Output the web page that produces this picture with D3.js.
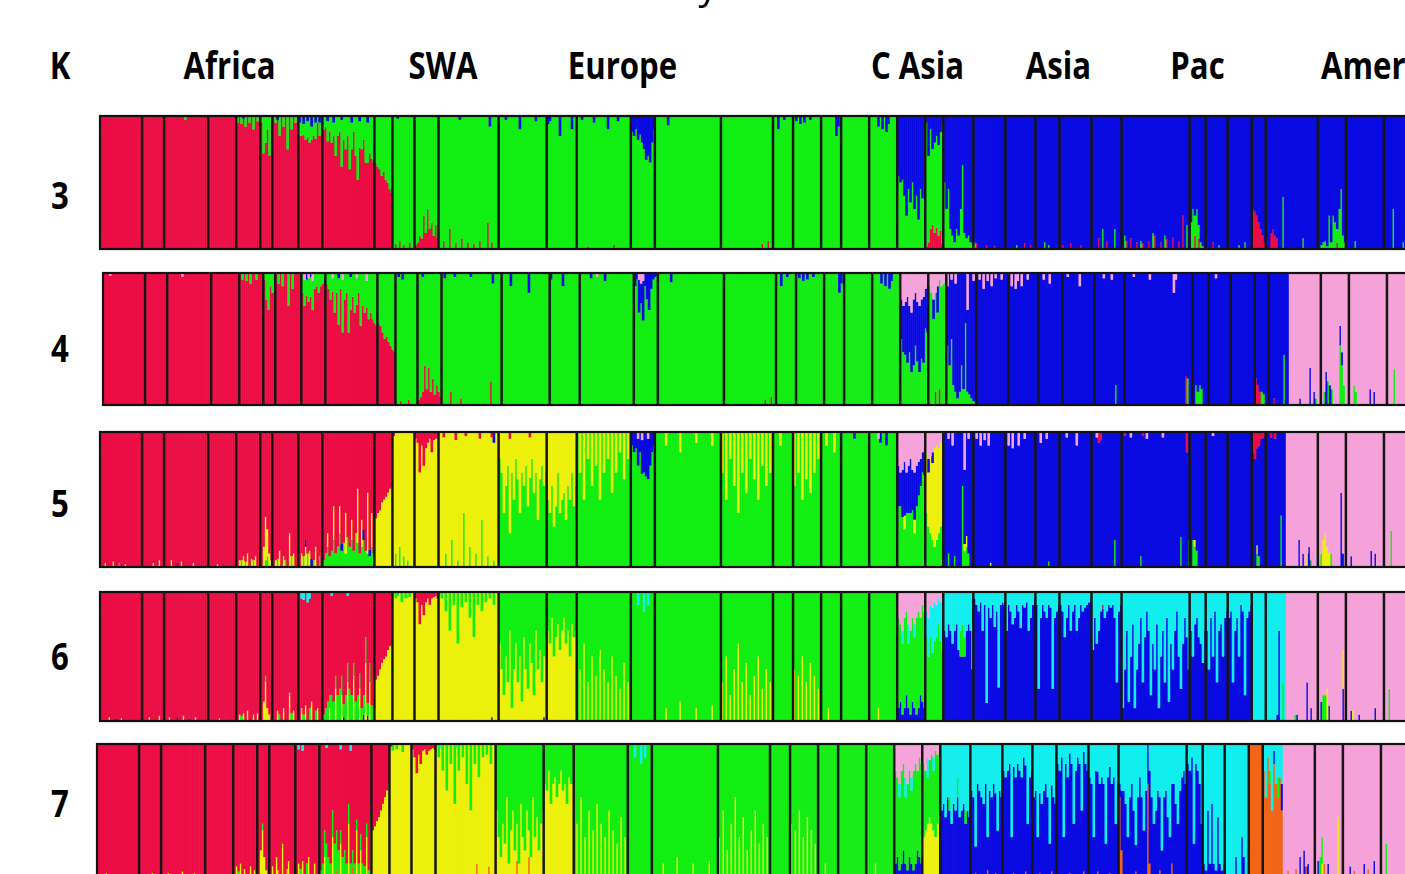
<!DOCTYPE html>
<html>
<head>
<meta charset="utf-8">
<script src="https://d3js.org/d3.v7.min.js"></script>
<style>
  body { margin: 0; background: #fff; overflow: hidden; }
  svg { display: block; background: #fff; }
  .lbl { font-family: "Open Sans", "Noto Sans", sans-serif; font-weight: 700; font-size: 38px; fill: #000; }
  .title { font-family: "Open Sans", "Noto Sans", sans-serif; font-size: 38px; fill: #000; }
</style>
</head>
<body>
<svg id="chart" width="1405" height="874"></svg>
<script>

// ---- data ----
const kValues = [3, 4, 5, 6, 7];
const regionLabels = ["Africa", "SWA", "Europe", "C Asia", "Asia", "Pac", "Amer"];

// individuals per population, left to right
const popSizes = [21, 11, 22, 14, 12, 6, 13, 12, 26, 9,
                  11, 12, 30,
                  24, 15, 27, 12, 33, 26, 10, 14, 10, 14, 14,
                  14, 9, 15,
                  16, 15, 12, 16, 15, 34, 8, 11, 12,
                  7, 10,
                  16, 14, 19, 18];

// cluster stacking order, bottom to top, per K
const stackOrder = { 3: "rgb", 4: "rgbp", 5: "gybrp", 6: "bygrcp", 7: "obygrcp" };

// per population: [main cluster, {other cluster: values}]
// values are either one q per individual, or [individual, q] pairs
const k3Pops = [
  ["r", {}],
  ["r", {}],
  ["r", {g: [[10, .03]]}],
  ["r", {}],
  ["r", {g: [[0,.05],[2,.06],[4,.08],[6,.05],[8,.1],[10,.04]], b: [[3,.02]]}],
  ["r", {g: [.05,.28,.2,.1,.3,.05]}],
  ["r", {g: [[1,.05],[3,.15],[5,.08],[7,.25],[9,.1],[11,.05]], b: [[2,.03]]}],
  ["r", {g: [.1,.15,.08,.18,.12,.2,.1,.15,.12,.05,.1,.06], b: [[0,.05],[2,.06],[4,.04],[6,.08],[8,.05],[10,.05]]}],
  ["r", {g: [.1,.08,.15,.12,.2,.1,.3,.15,.12,.35,.18,.25,.15,.4,.2,.12,.3,.48,.2,.25,.18,.35,.3,.28,.32,.35], b: [[2,.04],[5,.05],[9,.03],[14,.05],[18,.04],[22,.05]]}],
  ["r", {g: [.35,.38,.4,.45,.42,.48,.5,.55,.58]}],
  ["g", {r: [[1,.04],[3,.06],[5,.03],[8,.05]], b: [[2,.02]]}],
  ["g", {r: [.03,.05,.1,.08,.25,.12,.3,.15,.2,.1,.18,.08]}],
  ["g", {r: [[2,.06],[5,.15],[8,.05],[11,.08],[14,.05],[17,.04],[20,.06],[24,.2],[26,.05]], b: [[10,.03],[25,.08]]}],
  ["g", {b: [[3,.03],[10,.1],[18,.04]]}],
  ["g", {b: [[0,.06],[1,.04],[6,.15],[12,.1]]}],
  ["g", {b: [[2,.03],[8,.05],[15,.1],[20,.04]], r: [[5,.02],[18,.03]]}],
  ["g", {b: [.12,.15,.1,.18,.14,.2,.25,.33,.3,.35,.2,.1]}],
  ["g", {b: [[6,.07]]}],
  ["g", {r: [[20,.04],[23,.06]]}],
  ["g", {b: [[2,.1],[5,.03]]}],
  ["g", {b: [[1,.04],[3,.06],[5,.05],[8,.03]]}],
  ["g", {b: [[7,.15],[8,.08]]}],
  ["g", {}],
  ["g", {b: [[4,.08],[6,.1],[8,.12],[9,.06]]}],
  ["g", {b: [.45,.5,.48,.6,.75,.55,.65,.5,.7,.6,.78,.55,.62,.5]}],
  ["g", {b: [.05,.3,.1,.25,.2,.15,.22,.12,.05], r: [.02,.05,.15,.18,.12,.16,.1,.14,.04]}],
  ["b", {g: [.5,.3,.45,.15,.1,.05,.15,.1,.3,.63,.12,.08,.1,.05,.03], r: [[14,.02]]}],
  ["b", {g: [[0,.05]], r: [[1,.04],[6,.03],[10,.02]]}],
  ["b", {g: [[5,.03]], r: [[9,.04],[12,.03]]}],
  ["b", {g: [[4,.05],[6,.03]]}],
  ["b", {r: [[1,.03],[5,.04],[10,.03]]}],
  ["b", {r: [[3,.08],[7,.06]], g: [[5,.15],[11,.15]]}],
  ["b", {r: [[2,.06],[4,.08],[7,.05],[10,.04],[13,.06],[16,.1],[19,.05],[22,.07],[25,.09],[28,.06],[30,.25]], g: [[1,.1],[9,.06],[15,.12],[21,.1],[32,.18]]}],
  ["b", {g: [.2,.3,.15,.3,.1,.05,.02], r: [[2,.1],[4,.08]]}],
  ["b", {r: [[3,.05]], g: [[6,.03]]}],
  ["b", {g: [[5,.03],[8,.05]]}],
  ["b", {r: [.3,.28,.25,.2,.15,.1,.05]}],
  ["b", {r: [[2,.12],[3,.15],[4,.1],[5,.08]], g: [[8,.39]]}],
  ["b", {g: [[8,.08]]}],
  ["b", {g: [0,.03,.05,.06,.02,.25,.05,.25,.2,.1,.3,.45,.1,.05], r: [[9,.05]]}],
  ["b", {g: [[4,.06]]}],
  ["b", {g: [[4,.3],[9,.05]]}]
];

const k4Pops = [
  ["r", {p: [[3,.02]]}],
  ["r", {}],
  ["r", {p: [[7,.03]]}],
  ["r", {}],
  ["r", {g: [[1,.05],[3,.06],[5,.08],[8,.05]]}],
  ["r", {g: [.05,.2,.28,.1,.15,.03]}],
  ["r", {g: [[1,.08],[3,.1],[6,.25],[8,.12]]}],
  ["r", {g: [.15,.2,.12,.18,.15,.22,.12,.1,.15,.1,.08,.05], p: [[1,.05],[3,.04],[5,.06]], b: [[2,.05],[4,.03]]}],
  ["r", {g: [.08,.12,.2,.1,.3,.15,.35,.12,.4,.2,.15,.45,.25,.18,.3,.2,.15,.4,.25,.3,.2,.35,.3,.35,.38,.4], p: [[3,.04],[8,.05],[15,.04],[20,.06]], b: [[6,.04],[12,.03]]}],
  ["r", {g: [.38,.4,.45,.5,.48,.52,.55,.58,.6]}],
  ["g", {r: [[2,.03],[6,.04]], b: [[1,.03],[3,.05]]}],
  ["g", {r: [.04,.06,.1,.3,.12,.28,.1,.2,.08,.15,.1,.06], b: [[2,.03]]}],
  ["g", {r: [[4,.1],[9,.05],[24,.18]], b: [[1,.04],[6,.03],[14,.03],[25,.08]]}],
  ["g", {b: [[4,.1],[13,.15]]}],
  ["g", {b: [[0,.05],[6,.1]]}],
  ["g", {b: [[5,.04],[12,.06]], p: [[8,.03]]}],
  ["g", {b: [.1,.05,.25,.15,.3,.1,.2,.28,.12,.05,.03,.02], p: [[2,.05],[3,.08],[4,.06]]}],
  ["g", {b: [[6,.07]]}],
  ["g", {r: [[20,.04],[23,.06]]}],
  ["g", {b: [[2,.1],[5,.03]]}],
  ["g", {b: [[1,.04],[3,.06],[5,.05],[8,.03]]}],
  ["g", {b: [[7,.15],[8,.08]]}],
  ["g", {}],
  ["g", {b: [[4,.08],[6,.1],[8,.12],[9,.06]]}],
  ["g", {p: [.2,.25,.22,.18,.25,.3,.2,.15,.22,.25,.2,.18,.12,.1], b: [.3,.35,.4,.5,.35,.45,.5,.4,.45,.5,.45,.5,.3,.35]}],
  ["g", {p: [.1,.15,.2,.15,.1,.05,.1,.08,.05], b: [[2,.15],[4,.2]], r: [[3,.1],[5,.12]]}],
  ["b", {p: [[0,.1],[2,.05],[4,.08],[10,.28],[13,.06]], g: [.45,.3,.5,.15,.1,.05,.1,.3,.12,.62,.1,.08,.05,.03,.02]}],
  ["b", {p: [[1,.05],[3,.12],[5,.06],[7,.1],[9,.04],[12,.05]]}],
  ["b", {p: [[1,.1],[3,.12],[4,.06],[6,.1],[9,.05]]}],
  ["b", {p: [[2,.05],[5,.08]]}],
  ["b", {p: [[2,.03],[8,.1]]}],
  ["b", {p: [[4,.04],[8,.05]], g: [[10,.15]]}],
  ["b", {p: [[4,.03],[12,.05],[24,.15],[25,.05]], r: [[30,.22]], g: [[31,.2]]}],
  ["b", {g: [[1,.15],[2,.1],[3,.15],[4,.12]]}],
  ["b", {p: [[3,.04]]}],
  ["b", {}],
  ["b", {r: [[0,.2],[1,.15],[2,.1]], g: [[3,.1],[4,.08]]}],
  ["b", {g: [[7,.38]], r: [[2,.05]]}],
  ["p", {b: [[5,.05],[10,.28],[12,.1]], g: [[13,.05]]}],
  ["p", {g: [[1,.1],[3,.18],[5,.12],[9,.45],[10,.3],[11,.15]], b: [[2,.25],[4,.15],[9,.15],[10,.1]]}],
  ["p", {g: [[2,.15],[3,.1]], b: [[10,.12],[12,.1]]}],
  ["p", {g: [[3,.27]]}]
];

const k5Pops = [
  ["r", {y: [[2,.03],[6,.04],[12,.02]], g: [[9,.03]]}],
  ["r", {y: [[5,.03],[8,.05]]}],
  ["r", {y: [[3,.05],[8,.04],[14,.03]], b: [[6,.03]]}],
  ["r", {y: [[4,.02]]}],
  ["r", {y: [[1,.05],[3,.08],[5,.1],[7,.06],[9,.08]], g: [[2,.05],[4,.04],[8,.05]]}],
  ["r", {y: [0,.15,.32,.2,.1,0], g: [[2,.05],[3,.08],[5,.05]]}],
  ["r", {y: [[1,.05],[3,.12],[5,.08],[8,.25],[10,.1]], g: [[2,.06],[6,.05],[9,.08]]}],
  ["r", {y: [[1,.1],[3,.15],[5,.12],[8,.15]], g: [[2,.08],[4,.1],[7,.05],[10,.08]], b: [[3,.05],[6,.06]]}],
  ["r", {g: [.05,.1,.15,.08,.12,.2,.1,.15,.25,.12,.18,.1,.22,.15,.2,.12,.25,.18,.1,.15,.2,.12,.1,.08,.15,.1], y: [[2,.1],[5,.25],[8,.2],[11,.3],[14,.15],[17,.4],[19,.2],[22,.45],[24,.25]], b: [[9,.05],[20,.08],[23,.05]]}],
  ["r", {y: [.36,.4,.42,.48,.5,.52,.55,.58,.6]}],
  ["y", {g: [[1,.1],[3,.15],[5,.08],[7,.05]], r: [[0,.03]]}],
  ["y", {r: [.05,.08,.3,.1,.25,.12,.08,.05,.15,.06,.05,.04]}],
  ["y", {g: [[3,.1],[6,.2],[9,.05],[12,.4],[15,.15],[18,.1],[21,.35],[24,.08],[27,.05]], r: [[2,.04],[8,.06],[13,.03],[20,.05],[26,.04]], b: [[27,.08]]}],
  ["g", {y: [.2,.3,.6,.4,.25,.7,.3,.5,.2,.35,.6,.3,.4,.25,.55,.3,.2,.45,.3,.65,.35,.25,.4,.3], r: [[5,.05],[15,.04]]}],
  ["g", {y: [.5,.6,.4,.7,.55,.3,.6,.5,.45,.65,.4,.5,.3,.55,.4]}],
  ["g", {y: [[1,.3],[3,.5],[5,.2],[7,.4],[9,.25],[11,.5],[13,.3],[15,.2],[17,.45],[19,.3],[21,.15],[23,.35],[25,.2]]}],
  ["g", {b: [.1,.15,.12,.2,.15,.25,.3,.33,.3,.25,.15,.1], p: [[3,.05],[5,.06],[8,.05]]}],
  ["g", {y: [[5,.1],[12,.15],[20,.08],[28,.1]]}],
  ["g", {y: [[0,.3],[2,.5],[4,.2],[6,.4],[8,.6],[10,.3],[12,.45],[14,.2],[16,.35],[18,.5],[20,.25],[22,.4],[24,.3]]}],
  ["g", {y: [[3,.1]]}],
  ["g", {y: [[0,.4],[2,.3],[4,.5],[6,.35],[8,.45],[10,.3],[12,.2]]}],
  ["g", {y: [[2,.1],[6,.15]]}],
  ["g", {b: [[6,.05]]}],
  ["g", {b: [[5,.08],[8,.1]], p: [[4,.05]]}],
  ["g", {p: [.25,.3,.28,.22,.3,.25,.2,.28,.3,.25,.22,.2,.15,.12], b: [.3,.25,.35,.4,.3,.35,.4,.3,.35,.3,.25,.2,.15,.2], y: [[3,.1],[8,.1]]}],
  ["y", {p: [.15,.2,.18,.15,.12,.1,.12,.08,.05], g: [.4,.3,.25,.2,.15,.2,.25,.3,.35], b: [[1,.1],[3,.08]]}],
  ["b", {p: [[2,.05],[4,.1],[10,.28],[12,.05]], g: [[2,.1],[5,.08],[9,.6],[10,.12],[11,.15],[12,.1]], y: [[10,.05],[11,.08]]}],
  ["b", {p: [[1,.05],[3,.1],[5,.06],[7,.1]], y: [[8,.03]]}],
  ["b", {p: [[1,.1],[3,.12],[6,.1],[9,.05]]}],
  ["b", {p: [[2,.08],[5,.05]], g: [[6,.04]]}],
  ["b", {p: [[3,.04],[8,.1]]}],
  ["b", {r: [[3,.08],[4,.06]], p: [[2,.04]], g: [[11,.2]]}],
  ["b", {r: [[1,.03],[10,.03],[32,.15]], p: [[4,.04],[12,.05],[20,.04]], g: [[9,.08],[29,.22],[33,.2]]}],
  ["b", {g: [[1,.2],[2,.15],[3,.12]], y: [[2,.05]]}],
  ["b", {p: [[3,.03]]}],
  ["b", {}],
  ["b", {r: [.15,.2,.12,.1,.05,.04,.03], g: [[2,.1],[3,.08]], y: [[2,.06]]}],
  ["b", {r: [[2,.04],[4,.05]], g: [[7,.38]]}],
  ["p", {b: [[6,.2],[8,.1],[11,.15]], y: [[10,.1]], g: [[12,.05]]}],
  ["p", {y: [[2,.2],[3,.25],[4,.15],[5,.1]], g: [[1,.1],[6,.1]], b: [[11,.55],[12,.1]]}],
  ["p", {b: [[2,.08],[12,.12],[14,.1]]}],
  ["p", {g: [[3,.27]]}]
];

const k6Pops = [
  ["r", {y: [[4,.03],[10,.02]], b: [[7,.02]]}],
  ["r", {y: [[3,.03],[8,.04]]}],
  ["r", {y: [[2,.03],[9,.04],[15,.03]], b: [[6,.03],[12,.02]]}],
  ["r", {y: [[5,.02]]}],
  ["r", {y: [[1,.05],[3,.06],[5,.08],[8,.05],[10,.06]], g: [[2,.04]]}],
  ["r", {y: [0,.15,.3,.1,.05,0], g: [[2,.05]]}],
  ["r", {y: [[2,.08],[5,.1],[8,.22],[10,.08]], g: [[3,.05],[9,.06]]}],
  ["r", {y: [[1,.1],[3,.12],[6,.15],[9,.1]], g: [[2,.05],[5,.1],[8,.08]], c: [[1,.05],[2,.06],[4,.08],[5,.05]]}],
  ["r", {g: [.05,.1,.15,.1,.2,.15,.1,.2,.25,.15,.1,.2,.15,.25,.2,.1,.15,.2,.12,.1,.15,.2,.1,.15,.12,.1], y: [[3,.1],[6,.25],[9,.2],[12,.3],[15,.35],[18,.25],[21,.45],[23,.3],[25,.35]], b: [[10,.03],[20,.05],[22,.04]], c: [[4,.03],[12,.03]]}],
  ["r", {y: [.32,.35,.4,.45,.48,.5,.55,.58,.6]}],
  ["y", {g: [[1,.05],[2,.03],[4,.08],[6,.05],[8,.04]]}],
  ["y", {r: [.05,.08,.25,.1,.18,.08,.05,.1,.05,.04,.03,.05]}],
  ["y", {g: [[1,.05],[3,.15],[5,.3],[7,.1],[9,.4],[11,.12],[13,.08],[15,.2],[17,.35],[19,.1],[21,.15],[23,.08],[25,.05],[27,.1]], b: [[26,.03]]}],
  ["y", {g: [.4,.6,.8,.5,.7,.3,.9,.6,.4,.7,.5,.85,.35,.6,.75,.4,.55,.8,.3,.6,.45,.7,.5,.35], b: [[22,.03]]}],
  ["y", {g: [.3,.4,.2,.5,.35,.25,.45,.3,.2,.4,.3,.5,.25,.35,.3]}],
  ["g", {y: [[1,.4],[3,.6],[5,.3],[7,.5],[9,.35],[11,.55],[13,.4],[15,.3],[17,.5],[19,.35],[21,.25],[23,.45],[25,.3]]}],
  ["g", {c: [[3,.1],[6,.15],[8,.1]]}],
  ["g", {y: [[5,.1],[12,.15],[20,.1],[28,.12]]}],
  ["g", {y: [[0,.3],[2,.5],[4,.2],[6,.4],[8,.6],[10,.3],[12,.45],[14,.2],[16,.35],[18,.5],[20,.25],[22,.4],[24,.3]]}],
  ["g", {}],
  ["g", {y: [[0,.4],[2,.35],[4,.5],[6,.3],[8,.45],[10,.35],[12,.25]]}],
  ["g", {y: [[3,.1]]}],
  ["g", {}],
  ["g", {y: [[4,.1]]}],
  ["g", {p: [.2,.25,.3,.2,.15,.25,.3,.2,.25,.2,.15,.2,.1,.15], c: [[2,.1],[5,.15],[8,.1]], b: [.1,.15,.05,.1,.2,.1,.05,.15,.1,.05,.1,.2,.15,.1]}],
  ["g", {p: [.15,.2,.1,.12,.08,.1,.05,.08,.05], c: [.2,.3,.25,.35,.3,.25,.2,.3,.4]}],
  ["b", {c: [.3,.35,.25,.3,.4,.3,.25,.45,.3,.25,.35,.3,.25,.3,.6], g: [[8,.2],[9,.25],[10,.15]]}],
  ["b", {c: [.05,.1,.15,.08,.3,.1,.86,.12,.2,.1,.27,.15,.74,.1,.08,.1]}],
  ["b", {c: [.3,.1,.15,.25,.2,.1,.15,.28,.1,.12,.08,.3,.2,.1,.05]}],
  ["b", {c: [.1,.75,.2,.1,.15,.2,.1,.12,.75,.2,.15,.1]}],
  ["b", {c: [.1,.15,.35,.2,.1,.3,.15,.1,.3,.2,.1,.15,.12,.1,.08,.05]}],
  ["b", {c: [.45,.2,.4,.3,.15,.1,.2,.15,.1,.12,.1,.2,.7,.15,.1], r: [[5,.03]]}],
  ["b", {c: [.9,.6,.3,.85,.5,.25,.9,.6,.4,.2,.7,.35,.15,.3,.8,.4,.6,.25,.9,.5,.3,.7,.2,.85,.4,.6,.3,.15,.5,.75,.4,.2,.35,.6]}],
  ["b", {c: [.3,.5,.25,.2,.35,.4,.55,.3]}],
  ["b", {c: [.3,.6,.2,.5,.15,.7,.3,.25,.5,.2,.15]}],
  ["b", {c: [.2,.15,.7,.3,.2,.5,.1,.15,.8,.2,.15,.1]}],
  ["c", {}],
  ["c", {b: [[5,.05],[6,.7]], g: [[8,.3]]}],
  ["p", {b: [[5,.05],[10,.3],[12,.1]], g: [[4,.05]]}],
  ["p", {g: [[2,.2],[3,.2]], y: [[4,.25],[12,.3]], b: [[1,.15],[5,.12],[12,.25]]}],
  ["p", {b: [[2,.08],[6,.05],[14,.1]], y: [[3,.08]]}],
  ["p", {g: [[2,.25]]}]
];

const k7Pops = [
  ["r", {y: [[4,.03],[12,.02]], o: [[8,.02]]}],
  ["r", {y: [[6,.03]]}],
  ["r", {y: [[3,.03],[10,.04],[16,.03]]}],
  ["r", {o: [[5,.02]]}],
  ["r", {y: [[1,.08],[3,.1],[5,.06],[8,.08],[10,.05]], g: [[2,.04]]}],
  ["r", {y: [0,.2,.35,.15,.05,0], g: [[2,.05]]}],
  ["r", {y: [[1,.08],[3,.15],[6,.25],[9,.12]], o: [[4,.05],[8,.06]]}],
  ["r", {y: [[1,.1],[3,.12],[6,.15],[9,.1]], g: [[2,.06],[5,.1]], c: [[1,.04],[3,.05]]}],
  ["r", {g: [.05,.1,.2,.25,.15,.1,.2,.25,.3,.2,.1,.15,.2,.1,.15,.1,.12,.1,.08,.1,.12,.1,.08,.1,.05,.08], y: [[2,.15],[6,.3],[10,.25],[14,.4],[18,.35],[20,.2],[23,.3],[25,.4]], o: [[8,.05],[16,.08]], c: [[3,.03],[10,.04],[15,.05]]}],
  ["r", {y: [.35,.38,.42,.45,.5,.55,.6,.65,.7]}],
  ["y", {g: [[1,.05],[3,.04],[6,.06]], r: [[0,.02]]}],
  ["y", {r: [.04,.1,.22,.08,.15,.05,.04,.08,.05,.04,.03,.04]}],
  ["y", {g: [[1,.1],[3,.2],[5,.35],[7,.15],[9,.45],[11,.2],[13,.1],[15,.3],[17,.5],[19,.15],[21,.25],[23,.1],[25,.08],[27,.15]], o: [[20,.1],[26,.08]], c: [[2,.03],[10,.03]]}],
  ["y", {g: [.5,.7,.85,.6,.75,.4,.9,.65,.5,.8,.6,.9,.45,.7,.8,.5,.65,.85,.4,.7,.55,.8,.6,.5], o: [[10,.12],[16,.15]]}],
  ["y", {g: [.3,.35,.2,.45,.3,.25,.4,.3,.2,.35,.3,.45,.25,.3,.3]}],
  ["g", {y: [[1,.4],[3,.6],[5,.3],[7,.5],[9,.35],[11,.55],[13,.4],[15,.3],[17,.5],[19,.35],[21,.25],[23,.45],[25,.3]]}],
  ["g", {c: [[3,.1],[6,.15],[8,.1]]}],
  ["g", {y: [[5,.1],[12,.15],[20,.1],[28,.12]]}],
  ["g", {y: [[0,.3],[2,.5],[4,.2],[6,.4],[8,.6],[10,.3],[12,.45],[14,.2],[16,.35],[18,.5],[20,.25],[22,.4],[24,.3]]}],
  ["g", {}],
  ["g", {y: [[0,.4],[2,.35],[4,.5],[6,.3],[8,.45],[10,.35],[12,.25]]}],
  ["g", {y: [[3,.1]]}],
  ["g", {}],
  ["g", {y: [[4,.1]]}],
  ["g", {p: [.2,.25,.3,.2,.15,.25,.3,.2,.25,.2,.15,.2,.1,.15], c: [[2,.1],[5,.15],[8,.1]], b: [.1,.15,.05,.1,.2,.1,.05,.15,.1,.05,.1,.2,.15,.1]}],
  ["g", {p: [.15,.2,.1,.12,.08,.1,.05,.08,.05], y: [.3,.35,.4,.45,.4,.35,.3,.4,.45], c: [[2,.15],[5,.1]]}],
  ["c", {b: [.5,.55,.45,.6,.5,.4,.55,.5,.6,.45,.5,.55,.4,.5,.45], g: [[4,.1],[8,.15],[12,.1]]}],
  ["c", {b: [.65,.6,.2,.7,.65,.6,.55,.7,.25,.65,.6,.7,.6,.35,.65,.6], o: [[2,.03],[8,.05],[12,.03]]}],
  ["c", {b: [.8,.75,.8,.85,.3,.8,.75,.85,.8,.75,.9,.8,.4,.75,.8], o: [[5,.03],[11,.04]]}],
  ["c", {b: [.6,.65,.3,.6,.55,.65,.7,.6,.25,.65,.6,.55], o: [[3,.03],[9,.04]]}],
  ["c", {b: [.85,.8,.9,.3,.85,.75,.9,.85,.4,.8,.9,.85,.5,.9,.85,.8], o: [[6,.03],[13,.04]]}],
  ["c", {b: [.75,.7,.3,.8,.75,.7,.75,.7,.25,.75,.8,.7,.75,.4,.7], o: [[4,.04],[10,.03]]}],
  ["c", {b: [.1,.45,.65,.55,.3,.6,.7,.5,.2,.6,.75,.6,.35,.65,.3,.7,.6,.4,.5,.65,.55,.2,.6,.65,.45,.3,.6,.7,.55,.4,.65,.75,.8,.7], o: [[0,.6],[1,.2],[14,.7],[15,.1],[26,.1],[8,.04],[20,.05]]}],
  ["c", {b: [.85,.8,.9,.25,.85,.8,.7,.4]}],
  ["c", {b: [.1,.05,.5,.1,.55,.1,.05,.45,.1,.05,.1]}],
  ["c", {b: [[5,.15],[8,.3],[9,.15]]}],
  ["o", {}],
  ["c", {o: [.8,.6,.9,.7,.5,.85,.7,.6,.75,.5], g: [[3,.1],[7,.15]], b: [[5,.1],[9,.2]]}],
  ["p", {b: [[8,.15],[10,.2],[12,.1]], o: [[2,.05],[6,.06],[11,.08]]}],
  ["p", {g: [[2,.15],[3,.2]], y: [[3,.1],[11,.45]], o: [[4,.1]], b: [[1,.12],[6,.1]]}],
  ["p", {b: [[3,.08],[10,.1],[15,.12]], o: [[5,.05],[12,.06]]}],
  ["p", {g: [[2,.25]]}]
];

const rowPops = { 3: k3Pops, 4: k4Pops, 5: k5Pops, 6: k6Pops, 7: k7Pops };

// ---- layout / style ----
const clusterColors = { r: "#ec0c44", g: "#12ee12", b: "#0a0ae2", y: "#ecf00c",
                        p: "#f6a2da", c: "#12eeee", o: "#f2661a" };
const panels = {
  3: { x0: 100, top: 116, h: 133, labelY: 209 },
  4: { x0: 103, top: 273, h: 132, labelY: 362 },
  5: { x0: 100, top: 432, h: 135, labelY: 517 },
  6: { x0: 100, top: 592, h: 129, labelY: 670 },
  7: { x0: 97,  top: 744, h: 133, labelY: 817 }
};
const span = 1320;
const headerY = 79;
const labelX = [229.5, 443, 622.5, 917.5, 1058.5, 1197.5, 1321];
const skipLine = 37; // no divider between these two populations

const svg = d3.select("#chart");

function buildRow(pops, order) {
  const inds = [];
  pops.forEach(([base, minor], pi) => {
    const n = popSizes[pi];
    const start = inds.length;
    for (let i = 0; i < n; i++) {
      const d = { pop: pi };
      order.forEach(k => d[k] = 0);
      inds.push(d);
    }
    Object.entries(minor).forEach(([k, list]) => {
      list.forEach((v, j) => {
        const [i, q] = Array.isArray(v) ? v : [j, v];
        if (i < n) inds[start + i][k] = q;
      });
    });
    for (let i = start; i < inds.length; i++) {
      let s = d3.sum(order, k => k === base ? 0 : inds[i][k]);
      if (s > 1) { order.forEach(k => inds[i][k] /= s); s = 1; }
      inds[i][base] = 1 - s;
    }
  });
  return inds;
}

const bounds = d3.cumsum(popSizes).slice(0, -1);

kValues.forEach(k => {
  const P = panels[k];
  const order = stackOrder[k].split("");
  const inds = buildRow(rowPops[k], order);
  const x = d3.scaleLinear().domain([0, inds.length]).range([P.x0, P.x0 + span]);
  const y = d3.scaleLinear().domain([0, 1]).range([P.top + P.h, P.top]);
  const series = d3.stack().keys(order)(inds);
  const bw = x(1) - x(0);

  const g = svg.append("g").attr("class", "panel-k" + k);
  g.selectAll("g.layer").data(series).join("g")
    .attr("class", "layer")
    .attr("fill", s => clusterColors[s.key])
    .selectAll("rect")
    .data(s => s.map((p, i) => ({ i, y0: p[0], y1: p[1] })).filter(d => d.y1 - d.y0 > 0.001))
    .join("rect")
    .attr("x", d => x(d.i))
    .attr("width", bw + 0.6)
    .attr("y", d => y(d.y1))
    .attr("height", d => y(d.y0) - y(d.y1));

  g.selectAll("line.div").data(bounds.filter((b, i) => i !== skipLine)).join("line")
    .attr("class", "div")
    .attr("x1", d => x(d)).attr("x2", d => x(d))
    .attr("y1", P.top).attr("y2", P.top + P.h)
    .attr("stroke", "#151515").attr("stroke-width", 2.5);

  g.append("rect")
    .attr("x", P.x0).attr("y", P.top)
    .attr("width", span).attr("height", P.h)
    .attr("fill", "none").attr("stroke", "#111").attr("stroke-width", 2.2);

  svg.append("text").attr("class", "lbl")
    .attr("text-anchor", "middle")
    .attr("transform", `translate(60,${P.labelY}) scale(0.82,1)`)
    .text(k);
});

// header
svg.append("text").attr("class", "lbl").attr("text-anchor", "middle")
  .attr("transform", `translate(60,${headerY}) scale(0.82,1)`).text("K");
regionLabels.forEach((t, i) => {
  svg.append("text").attr("class", "lbl")
    .attr("text-anchor", i === regionLabels.length - 1 ? "start" : "middle")
    .attr("transform", `translate(${labelX[i]},${headerY}) scale(0.82,1)`)
    .text(t);
});

// descender of the title cut off above (the reference is cropped there)
svg.append("text").attr("class", "title").attr("text-anchor", "middle")
  .attr("x", 708).attr("y", -1).text("y");

</script>
</body>
</html>
